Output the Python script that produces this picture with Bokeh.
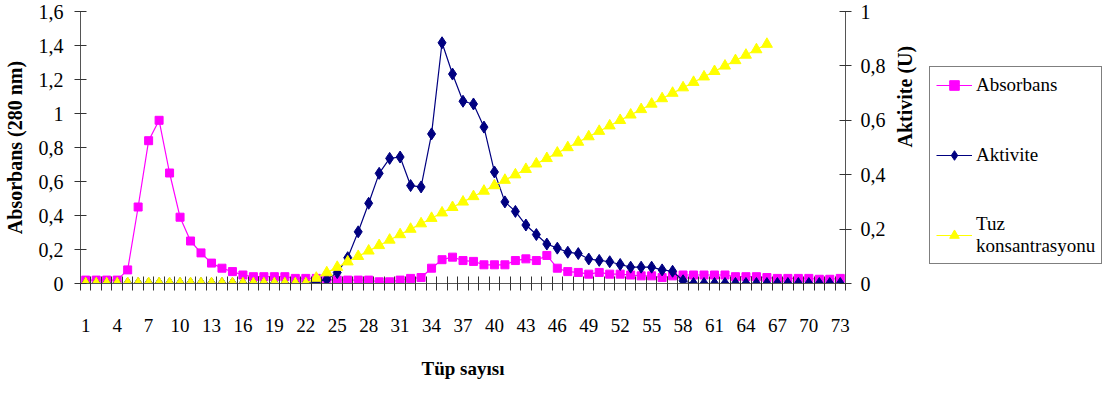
import math
from bokeh.plotting import figure
from bokeh.layouts import row
from bokeh.models import (Range1d, LinearAxis, FixedTicker, Legend, LegendItem,
                          CustomJSTickFormatter)
from bokeh.embed import file_html
from bokeh.resources import INLINE

# ---------------- data ----------------
tubes = list(range(1, 74))
x_tick_labels = [1, 4, 7, 10, 13, 16, 19, 22, 25, 28, 31, 34, 37, 40, 43, 46, 49,
                 52, 55, 58, 61, 64, 67, 70, 73]
left_ticks = [0, 0.2, 0.4, 0.6, 0.8, 1, 1.2, 1.4, 1.6]
right_ticks = [0, 0.2, 0.4, 0.6, 0.8, 1]

absorbans = [0.02, 0.02, 0.02, 0.02, 0.08, 0.45, 0.84, 0.96, 0.65, 0.39,
             0.25, 0.18, 0.12, 0.09, 0.07, 0.05, 0.04, 0.04, 0.04, 0.04,
             0.03, 0.03, 0.03, 0.02, 0.02, 0.02, 0.02, 0.02, 0.01, 0.01,
             0.02, 0.03, 0.035, 0.09, 0.14, 0.155, 0.135, 0.13, 0.11, 0.11,
             0.11, 0.135, 0.145, 0.135, 0.165, 0.09, 0.07, 0.065, 0.055, 0.065,
             0.055, 0.055, 0.05, 0.045, 0.045, 0.035, 0.045, 0.05, 0.05, 0.05,
             0.05, 0.05, 0.04, 0.04, 0.04, 0.035, 0.03, 0.03, 0.03, 0.03,
             0.025, 0.025, 0.03]

aktivite = [0, 0, 0, 0, 0, 0, 0, 0, 0, 0,
            0, 0, 0, 0, 0, 0, 0, 0, 0, 0,
            0, 0, 0.005, 0.015, 0.04, 0.095, 0.19, 0.295, 0.405, 0.46,
            0.465, 0.36, 0.355, 0.55, 0.885, 0.77, 0.67, 0.66, 0.575, 0.41,
            0.3, 0.265, 0.215, 0.18, 0.145, 0.13, 0.115, 0.11, 0.09, 0.085,
            0.08, 0.07, 0.06, 0.06, 0.06, 0.05, 0.045, 0.01, 0, 0,
            0, 0, 0, 0, 0, 0, 0, 0, 0, 0,
            0, 0, 0]

nan = float("nan")
tuz = [0, 0, 0, 0, 0, 0, 0, 0, 0, 0,
       0, 0, 0, 0, 0, 0, 0, 0, 0, 0,
       0, 0, 0.02, 0.04, 0.06, 0.08, 0.10, 0.12, 0.14, 0.16,
       0.18, 0.20, 0.22, 0.24, 0.26, 0.28, 0.30, 0.32, 0.34, 0.36,
       0.38, 0.40, 0.42, 0.44, 0.46, 0.48, 0.50, 0.52, 0.54, 0.56,
       0.58, 0.60, 0.62, 0.64, 0.66, 0.68, 0.70, 0.72, 0.74, 0.76,
       0.78, 0.80, 0.82, 0.84, 0.86, 0.88, nan, nan, nan, nan,
       nan, nan, nan]

series_names = ["Absorbans", "Aktivite", "Tuz\nkonsantrasyonu"]

# ---------------- main figure ----------------
FONT = "Liberation Serif"
MAG, NAVY, YEL = "#FF00FF", "#000080", "#FFFF00"

p = figure(frame_width=765, frame_height=272, x_range=Range1d(0.5, 73.5),
           y_range=Range1d(0, 1.6), output_backend="svg", toolbar_location=None,
           min_border_left=74, min_border_right=0, min_border_top=11, min_border_bottom=0)
p.outline_line_color = None
p.grid.visible = False
p.background_fill_color = "white"
p.border_fill_color = "white"
p.extra_y_ranges = {"akt": Range1d(0, 1)}

comma = CustomJSTickFormatter(code="return String(tick).replace('.', ',')")

xa = p.xaxis[0]
xa.ticker = FixedTicker(ticks=x_tick_labels, minor_ticks=[t + 0.5 for t in range(0, 74)])
xa.major_tick_line_color = None
xa.major_tick_in = 0
xa.major_tick_out = 0
xa.minor_tick_in = 7
xa.minor_tick_out = 7
xa.minor_tick_line_color = "#333333"
xa.axis_line_color = "#555555"
xa.major_label_standoff = 28
xa.major_label_text_font = FONT
xa.major_label_text_font_size = "19px"
xa.major_label_text_color = "black"
xa.axis_label = "Tüp sayısı"
xa.axis_label_text_font = FONT
xa.axis_label_text_font_style = "bold"
xa.axis_label_text_font_size = "19px"
xa.axis_label_text_color = "black"
xa.axis_label_standoff = 23

ya = p.yaxis[0]
ya.ticker = FixedTicker(ticks=left_ticks)
ya.formatter = comma
ya.minor_tick_line_color = None
ya.major_tick_in = 6
ya.major_tick_out = 6
ya.major_tick_line_color = "#333333"
ya.axis_line_color = "#555555"
ya.major_label_standoff = 11
ya.major_label_text_font = FONT
ya.major_label_text_font_size = "20px"
ya.major_label_text_color = "black"
ya.axis_label = "Absorbans (280 nm)"
ya.axis_label_text_font = FONT
ya.axis_label_text_font_style = "bold"
ya.axis_label_text_font_size = "20px"
ya.axis_label_text_color = "black"
ya.axis_label_standoff = 10

ra = LinearAxis(y_range_name="akt", ticker=FixedTicker(ticks=right_ticks), formatter=comma)
ra.minor_tick_line_color = None
ra.major_tick_in = 6
ra.major_tick_out = 6
ra.major_tick_line_color = "#333333"
ra.axis_line_color = "#555555"
ra.major_label_standoff = 9
ra.major_label_text_font = FONT
ra.major_label_text_font_size = "20px"
ra.major_label_text_color = "black"
ra.axis_label = "Aktivite (U)"
ra.axis_label_orientation = math.pi / 2
ra.axis_label_text_font = FONT
ra.axis_label_text_font_style = "bold"
ra.axis_label_text_font_size = "20px"
ra.axis_label_text_color = "black"
ra.axis_label_standoff = 16
p.add_layout(ra, "right")


def draw(fig):
    l1 = fig.line(tubes, absorbans, line_color=MAG, line_width=1.2)
    m1 = fig.scatter(tubes, absorbans, marker="square", size=8, fill_color=MAG, line_color=MAG)
    l2 = fig.line(tubes, aktivite, line_color=NAVY, line_width=1.2, y_range_name="akt")
    m2 = fig.scatter(tubes, aktivite, marker="diamond", size=12, fill_color=NAVY,
                     line_color=NAVY, y_range_name="akt")
    l3 = fig.line(tubes, tuz, line_color=YEL, line_width=1.2, y_range_name="akt")
    m3 = fig.scatter(tubes, tuz, marker="triangle", size=11, fill_color=YEL, line_color=YEL,
                     y_range_name="akt")
    return [(l1, m1), (l2, m2), (l3, m3)]


draw(p)

# ---------------- legend panel (same series, view kept off the data) ----------------
q = figure(width=174, height=378, x_range=Range1d(1000, 1001), y_range=Range1d(1000, 1001),
           output_backend="svg", toolbar_location=None, x_axis_type=None, y_axis_type=None,
           min_border_left=0, min_border_right=0, min_border_top=11, min_border_bottom=0)
q.extra_y_ranges = {"akt": Range1d(1000, 1001)}
q.outline_line_color = None
q.grid.visible = False
q.background_fill_color = "white"
q.border_fill_color = "white"
pairs = draw(q)

legend = Legend(items=[LegendItem(label=n, renderers=list(r)) for n, r in zip(series_names, pairs)],
                location=(0, 16), orientation="vertical",
                border_line_color="black", border_line_width=1,
                background_fill_color="white", background_fill_alpha=1,
                label_text_font=FONT, label_text_font_style="normal",
                label_text_font_size="19px", label_text_color="black",
                glyph_width=36, glyph_height=24, label_height=24,
                spacing=46, padding=6, label_standoff=4, margin=0)
q.add_layout(legend)

layout = row(p, q)
open("out.html", "w").write(file_html(layout, INLINE))
